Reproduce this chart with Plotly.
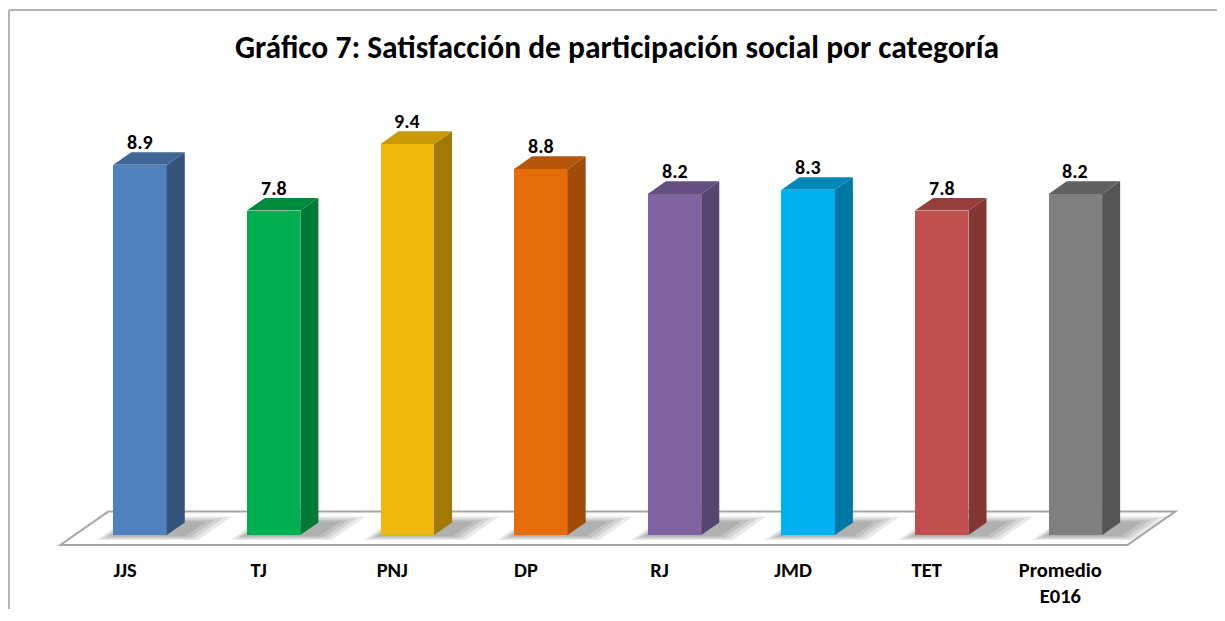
import plotly.graph_objects as go

# ---- data ----
categories = ["JJS", "TJ", "PNJ", "DP", "RJ", "JMD", "TET", "Promedio<br>E016"]
values = [8.9, 7.8, 9.4, 8.8, 8.2, 8.3, 7.8, 8.2]
front_colors = ["#4F81BD", "#00B050", "#F0B80C", "#E46C0A", "#8064A2", "#00B0F0", "#C0504D", "#808080"]
top_colors = ["#3F6695", "#008A3E", "#C89A08", "#B5560A", "#654F80", "#0088BA", "#953E3C", "#616161"]
side_colors = ["#34537B", "#007A35", "#A07A04", "#A04B07", "#574470", "#0077A4", "#843533", "#545454"]
title_text = "Gráfico 7: Satisfacción de participación social por categoría"

# ---- style constants ----
FONT = "Carlito, Calibri, Lato, sans-serif"
FIG_W, FIG_H = 1209, 601      # page body has an 8px margin on every side
W = 0.4                       # bar width (category units)
DX, DY = 0.135, 0.303         # 3D depth offset in data units
FLOOR_FRONT_Y = -0.24
FLOOR_DEPTH = 2.65
FLOOR_LEFT = -0.596
FLOOR_RIGHT_PAD = 0.39

n = len(categories)
idx = list(range(n))

fig = go.Figure()

# front faces
fig.add_trace(go.Bar(
    x=idx, y=values, width=W,
    marker=dict(color=front_colors, line=dict(width=0)),
    hoverinfo="skip", showlegend=False,
))

# side and top faces
for i, v in enumerate(values):
    xr = i + W / 2
    xl = i - W / 2
    fig.add_trace(go.Scatter(
        x=[xr, xr + DX, xr + DX, xr, xr],
        y=[0, DY, v + DY, v, 0],
        fill="toself", fillcolor=side_colors[i], mode="lines",
        line=dict(width=0, color=side_colors[i]),
        hoverinfo="skip", showlegend=False,
    ))
    fig.add_trace(go.Scatter(
        x=[xl, xr, xr + DX, xl + DX, xl],
        y=[v, v, v + DY, v + DY, v],
        fill="toself", fillcolor=top_colors[i], mode="lines",
        line=dict(width=0, color=top_colors[i]),
        hoverinfo="skip", showlegend=False,
    ))

# value labels
annotations = []
for i, v in enumerate(values):
    annotations.append(dict(
        x=i, y=v + DY, xref="x", yref="y",
        text=f"<b>{v:.1f}</b>", showarrow=False,
        xanchor="center", yanchor="middle", yshift=10,
        font=dict(family=FONT, size=20, color="#000000"),
    ))

# floor (3D base plane)
fx0 = FLOOR_LEFT
fx1 = (n - 1) + FLOOR_RIGHT_PAD
fy0 = FLOOR_FRONT_Y
bdx = DX * FLOOR_DEPTH
bdy = DY * FLOOR_DEPTH
shapes = [dict(
    type="path", xref="x", yref="y", layer="below",
    path=f"M {fx0},{fy0} L {fx1},{fy0} L {fx1 + bdx},{fy0 + bdy} L {fx0 + bdx},{fy0 + bdy} Z",
    fillcolor="#FFFFFF", line=dict(color="#A6A6A6", width=2),
)]

# soft shadows on the floor around each bar
shear = DX / DY
for i in idx:
    for k in range(4):
        x0 = i - W / 2 - 0.01 - 0.02 * k
        x1 = i + W / 2 + DX + 0.02 + 0.045 * k
        y0 = -0.03 - 0.03 * k
        y1 = DY + 0.02 + 0.04 * k
        shapes.append(dict(
            type="path", xref="x", yref="y", layer="below",
            path=(f"M {x0 + shear * y0},{y0} L {x1 + shear * y0},{y0} "
                  f"L {x1 + shear * y1},{y1} L {x0 + shear * y1},{y1} Z"),
            fillcolor="rgba(0,0,0,0.085)", line=dict(width=0),
        ))

# outer chart border (top and left edges only)
border = dict(color="#B4B4B4", width=2)
shapes.append(dict(type="line", xref="paper", yref="paper",
                   x0=0.0, x1=1.2, y0=1.1978, y1=1.1978, line=border))
shapes.append(dict(type="line", xref="paper", yref="paper",
                   x0=0.0, x1=0.0, y0=-0.3, y1=1.1978, line=border))

fig.update_layout(
    width=FIG_W, height=FIG_H,
    margin=dict(l=1, r=8, t=92, b=54),
    paper_bgcolor="#FFFFFF", plot_bgcolor="rgba(0,0,0,0)",
    title=dict(
        text=f"<b>{title_text}</b>",
        x=609 / FIG_W, xref="container", xanchor="center",
        y=1 - 39 / FIG_H, yref="container", yanchor="middle",
        font=dict(family=FONT, size=31.5, color="#000000"),
    ),
    shapes=shapes,
    annotations=annotations,
    bargap=0,
    xaxis=dict(
        range=[-0.9805, 8], showgrid=False, zeroline=False, showline=False,
        tickmode="array", tickvals=idx,
        ticktext=[f"<b>{c}</b>" for c in categories],
        tickfont=dict(family=FONT, size=20.5, color="#000000"),
        ticks="", ticklabelshift=-15, ticklabelstandoff=0,
        automargin=False, fixedrange=True,
    ),
    yaxis=dict(
        range=[-0.48, 10.457], visible=False, showgrid=False, zeroline=False,
        automargin=False, fixedrange=True,
    ),
    showlegend=False,
)

fig.write_html("out.html")
